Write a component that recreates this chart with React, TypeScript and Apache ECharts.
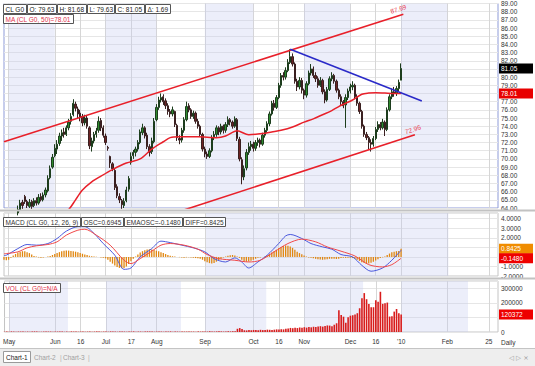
import React, { useEffect, useRef } from 'react';
import * as echarts from 'echarts';

const FONT = 'Liberation Sans';
const FS = 6.5;

// trading calendar
const HOLIDAYS = ['2009-05-25', '2009-07-03', '2009-09-07', '2009-11-26', '2009-12-25', '2010-01-01'];
const DAY_COUNT = 215;

const tickDates = ['2009-05-01', '2009-06-01', '2009-06-16', '2009-07-01', '2009-07-17', '2009-08-03', '2009-09-01', '2009-10-01', '2009-10-16', '2009-11-02', '2009-12-01', '2009-12-16', '2010-01-04', '2010-02-01', '2010-02-25'];
const tickTexts = ['May', 'Jun', '16', 'Jul', '17', 'Aug', 'Sep', 'Oct', '16', 'Nov', 'Dec', '16', "'10", 'Feb', '25'];
const shadeStarts = ['2009-05-01', '2009-07-01', '2009-09-01', '2009-11-02', '2010-01-04'];
const shadeEnds = ['2009-06-01', '2009-08-03', '2009-10-01', '2009-12-01', '2010-02-01'];

// OHLC from 2009-04-29 to 2010-01-04
const opens = [
  60.6, 61.0, 61.5, 62.1, 62.9, 62.6, 63.4, 63.8, 64.7, 65.4,
  64.8, 64.2, 64.8, 64.3, 64.9, 64.6, 65.4, 65.0, 65.6, 66.1,
  67.7, 69.0, 70.4, 71.2, 71.9, 72.8, 73.3, 73.0, 73.8, 74.6,
  75.4, 76.7, 76.1, 75.6, 75.2, 74.4, 75.0, 73.8, 71.5, 72.2,
  73.0, 73.5, 74.7, 73.8, 72.8, 71.4, 70.3, 69.4, 68.6, 66.6,
  65.4, 64.9, 64.3, 64.9, 66.3, 69.6, 70.4, 70.8, 71.2, 72.0,
  73.2, 73.8, 72.9, 71.5, 70.9, 72.1, 74.8, 76.3, 77.2, 77.6,
  77.1, 76.5, 75.8, 75.5, 75.8, 74.1, 72.5, 72.3, 73.5, 74.8,
  76.5, 76.0, 75.2, 75.6, 74.6, 74.0, 73.0, 71.2, 70.6, 70.3,
  71.0, 72.7, 73.0, 73.8, 73.3, 74.0, 73.5, 74.2, 74.8, 74.5,
  74.0, 74.8, 72.4, 69.9, 67.8, 68.9, 70.8, 71.5, 71.8, 71.3,
  72.0, 72.3, 71.8, 72.9, 73.5, 74.3, 75.5, 76.8, 76.3, 77.5,
  79.0, 80.2, 80.0, 80.8, 81.8, 82.5, 81.6, 79.5, 78.8, 79.6,
  78.4, 77.8, 79.2, 80.5, 81.0, 80.2, 79.8, 79.0, 79.6, 78.2,
  77.2, 78.5, 79.8, 80.2, 79.5, 78.4, 77.6, 77.0, 76.6, 77.5,
  78.3, 78.8, 79.0, 77.6, 76.8, 75.8, 74.0, 73.0, 72.6, 72.0,
  71.8, 72.5, 73.6, 74.2, 73.8, 74.5, 73.6, 76.0, 77.6, 78.2,
  78.0, 78.6, 79.63,
];
const highs = [
  61.4, 61.9, 62.4, 63.1, 63.2, 63.9, 64.3, 65.0, 65.0, 65.6,
  65.0, 65.1, 65.0, 65.2, 65.3, 65.7, 65.8, 65.9, 66.5, 68.0,
  69.2, 70.6, 71.8, 72.3, 73.2, 73.6, 73.8, 74.1, 74.9, 75.6,
  77.3, 77.0, 76.4, 76.0, 75.5, 75.4, 75.3, 74.0, 72.6, 73.3,
  73.8, 75.2, 75.0, 74.1, 73.1, 71.6, 70.4, 69.6, 68.8, 66.9,
  65.8, 65.1, 65.2, 66.6, 67.9, 70.8, 71.1, 71.5, 72.3, 73.6,
  74.3, 74.0, 73.2, 71.8, 72.6, 75.0, 76.7, 77.6, 78.0, 77.9,
  77.4, 76.8, 76.1, 76.4, 75.9, 74.3, 72.9, 73.8, 75.1, 77.0,
  76.8, 76.2, 75.9, 75.8, 74.9, 74.2, 73.2, 71.5, 70.9, 71.3,
  72.9, 73.4, 74.1, 74.0, 74.3, 74.2, 74.5, 75.2, 75.0, 74.7,
  75.2, 75.0, 72.7, 70.2, 69.2, 71.2, 72.0, 72.2, 72.1, 72.3,
  72.6, 72.5, 73.2, 73.8, 74.6, 75.8, 77.1, 77.2, 77.8, 79.3,
  80.5, 80.6, 81.2, 82.2, 83.4, 82.9, 81.8, 79.8, 80.0, 79.9,
  78.6, 79.5, 80.8, 81.6, 81.3, 80.6, 80.1, 80.0, 79.8, 78.5,
  78.8, 80.1, 80.6, 80.4, 79.7, 78.6, 77.9, 77.2, 77.9, 78.6,
  79.2, 79.5, 79.2, 77.9, 77.0, 76.0, 74.2, 73.3, 72.8, 72.4,
  72.8, 73.9, 74.6, 74.5, 74.9, 74.7, 76.3, 77.9, 78.6, 78.8,
  78.9, 79.7, 81.68,
];
const lows = [
  60.3, 60.8, 61.2, 61.9, 62.1, 62.4, 63.1, 63.6, 63.9, 64.5,
  64.0, 64.0, 63.9, 64.1, 64.3, 64.4, 64.8, 64.8, 65.3, 65.9,
  67.5, 68.8, 70.2, 70.6, 71.6, 72.2, 72.6, 72.8, 73.5, 74.2,
  75.2, 75.8, 75.0, 74.6, 74.0, 74.1, 73.7, 71.2, 70.9, 71.9,
  72.6, 73.2, 73.4, 72.6, 71.7, 71.0, 68.9, 68.5, 66.2, 65.2,
  64.6, 63.9, 64.0, 64.7, 66.0, 69.3, 70.0, 70.3, 70.9, 71.8,
  72.9, 72.5, 71.2, 70.3, 70.6, 71.9, 74.6, 76.0, 76.9, 76.6,
  76.1, 75.4, 75.1, 75.2, 73.9, 72.2, 71.8, 72.0, 73.2, 74.6,
  75.7, 74.9, 74.9, 74.3, 73.7, 72.7, 70.9, 70.2, 70.0, 70.1,
  70.8, 72.3, 72.7, 72.9, 73.0, 73.1, 73.2, 73.9, 74.1, 73.7,
  73.8, 72.2, 69.7, 66.9, 67.4, 68.6, 70.5, 71.0, 70.9, 71.0,
  71.6, 71.4, 71.6, 72.6, 73.2, 74.0, 75.3, 75.9, 76.1, 77.3,
  78.7, 79.6, 79.7, 80.6, 81.6, 81.3, 79.2, 78.3, 78.5, 78.0,
  77.3, 77.5, 79.0, 80.2, 79.9, 79.4, 78.7, 78.8, 77.9, 76.8,
  77.0, 78.3, 79.5, 79.2, 78.1, 77.3, 76.6, 76.2, 73.8, 77.2,
  78.0, 78.4, 77.3, 76.5, 75.5, 73.7, 72.7, 72.3, 71.2, 70.9,
  71.5, 72.3, 73.3, 73.5, 73.6, 72.8, 73.4, 75.8, 77.3, 77.6,
  77.7, 78.3, 79.63,
];
const closes = [
  61.0, 61.6, 62.0, 62.8, 62.5, 63.5, 63.8, 64.6, 64.3, 64.8,
  64.3, 64.7, 64.2, 64.9, 64.6, 65.3, 65.0, 65.6, 66.2, 67.6,
  68.8, 70.2, 71.3, 71.8, 72.8, 73.2, 73.0, 73.8, 74.5, 75.2,
  76.8, 76.2, 75.5, 75.1, 74.4, 75.0, 74.0, 71.6, 72.2, 73.0,
  73.4, 74.6, 73.8, 72.9, 72.0, 71.3, 69.5, 68.8, 66.5, 65.5,
  65.0, 64.4, 64.8, 66.2, 67.6, 70.3, 70.8, 71.2, 72.0, 73.3,
  73.8, 72.8, 71.5, 70.8, 72.2, 74.6, 76.3, 77.2, 77.5, 77.0,
  76.5, 75.8, 75.5, 76.0, 74.2, 72.6, 72.3, 73.5, 74.8, 76.4,
  76.0, 75.2, 75.6, 74.6, 74.0, 73.0, 71.2, 70.6, 70.3, 71.0,
  72.6, 73.0, 73.8, 73.3, 74.0, 73.5, 74.2, 74.8, 74.5, 74.0,
  74.9, 72.5, 70.0, 67.8, 68.8, 70.8, 71.5, 71.8, 71.3, 72.0,
  72.3, 71.8, 72.9, 73.5, 74.3, 75.5, 76.8, 76.3, 77.5, 79.0,
  80.2, 80.0, 80.8, 81.8, 82.5, 81.6, 79.5, 78.8, 79.6, 78.4,
  77.8, 79.2, 80.5, 81.0, 80.2, 79.8, 79.0, 79.6, 78.2, 77.2,
  78.5, 79.8, 80.2, 79.5, 78.4, 77.6, 77.0, 76.5, 77.5, 78.3,
  78.8, 79.0, 77.6, 76.8, 75.8, 74.0, 73.0, 72.6, 72.0, 71.8,
  72.5, 73.6, 74.2, 73.8, 74.5, 73.6, 76.0, 77.6, 78.2, 78.0,
  78.6, 79.36, 81.05,
];

const maIdx = [22, 25, 28, 31, 34, 38, 42, 47, 53, 59, 64, 69, 72, 76, 84, 92, 96, 101, 106, 112, 116, 120, 125, 130, 134, 138, 142, 145, 148, 151, 155, 158, 161, 165, 169, 172];
const maVals = [62.6, 63.2, 63.8, 65.0, 66.2, 67.2, 67.9, 68.7, 69.5, 70.0, 71.2, 72.1, 72.6, 72.7, 72.7, 72.6, 72.8, 73.45, 72.95, 73.1, 73.3, 73.5, 73.9, 74.5, 74.9, 75.4, 75.9, 76.4, 76.8, 77.2, 77.9, 78.05, 78.1, 78.05, 78.0, 78.01];

// drawn trend lines (index, value)
const upperIdx = [0, 173];
const upperVals = [72.1, 87.69];
const lowerIdx = [70, 178];
const lowerVals = [63.03, 72.96];
const blueIdx = [124, 181];
const blueVals = [83.4, 77.07];

// MACD lines
const oscIdx = [0, 1, 6, 10, 14, 19, 23, 27, 32, 35, 39, 43, 48, 52, 55, 59, 64, 68, 72, 77, 82, 87, 91, 96, 100, 103, 106, 110, 114, 119, 122, 124, 129, 133, 138, 142, 146, 151, 155, 159, 164, 168, 172];
const oscVals = [0.15, 0.18, 0.87, 1.3, 1.23, 1.4, 1.93, 2.7, 3.16, 3.16, 2.46, 1.4, 0.18, -1.3, -1.16, 0, 0.87, 1.65, 1.5, 1.23, 0.95, 0.53, -0.18, -0.53, -0.1, -0.53, -1.16, -0.53, 0.18, 1.4, 2.2, 2.35, 1.93, 1.4, 1.05, 0.81, 0.25, 0, -0.88, -1.5, -1.16, -0.35, 0.6945];
const emaIdx = [0, 1, 6, 10, 14, 19, 23, 27, 32, 35, 40, 46, 52, 55, 59, 64, 68, 72, 78, 84, 88, 93, 100, 106, 111, 117, 123, 129, 135, 140, 146, 152, 158, 164, 168, 172];
const emaVals = [0.33, 0.35, 0.53, 0.95, 1.16, 1.3, 1.58, 2.28, 2.8, 2.9, 2.28, 1.23, -0.35, -0.7, -0.18, 0.6, 1.23, 1.4, 1.23, 0.81, 0.25, -0.18, -0.35, -0.53, -0.35, 0.53, 1.4, 1.86, 1.58, 1.05, 0.6, 0.1, -0.81, -1.05, -0.81, -0.148];
const diffVals = [
  -0.3, -0.35, -0.3, -0.1, 0.15, 0.3, 0.45, 0.55, 0.6, 0.58,
  0.5, 0.4, 0.25, 0.1, 0.05, -0.05, -0.08, -0.05, 0, 0.05,
  0.1, 0.2, 0.3, 0.4, 0.5, 0.58, 0.64, 0.66, 0.66, 0.62,
  0.6, 0.55, 0.48, 0.4, 0.33, 0.25, 0.2, 0.12, 0.08, 0.05,
  0.02, 0, -0.05, -0.08, -0.15, -0.3, -0.5, -0.7, -0.9, -1.05,
  -1.15, -1.2, -1.15, -1.0, -0.75, -0.45, -0.2, 0.05, 0.25, 0.45,
  0.6, 0.7, 0.78, 0.8, 0.78, 0.72, 0.65, 0.58, 0.5, 0.4,
  0.3, 0.2, 0.12, 0.08, 0.04, 0, -0.03, -0.05, -0.08, -0.05,
  -0.03, -0.06, -0.1, -0.12, -0.15, -0.2, -0.3, -0.45, -0.55, -0.65,
  -0.7, -0.65, -0.5, -0.35, -0.2, -0.05, 0.05, 0.12, 0.18, 0.2,
  0.15, 0.05, -0.1, -0.3, -0.45, -0.5, -0.48, -0.4, -0.3, -0.2,
  -0.1, -0.05, 0, 0.05, 0.15, 0.3, 0.45, 0.6, 0.75, 0.9,
  1.05, 1.15, 1.2, 1.18, 1.1, 0.95, 0.75, 0.55, 0.4, 0.28,
  0.15, 0.05, -0.05, -0.1, -0.15, -0.2, -0.25, -0.28, -0.3, -0.28,
  -0.25, -0.2, -0.18, -0.2, -0.22, -0.18, -0.12, -0.1, -0.1, -0.08,
  -0.1, -0.12, -0.18, -0.3, -0.42, -0.55, -0.65, -0.7, -0.7, -0.62,
  -0.5, -0.38, -0.25, -0.12, -0.05, 0.05, 0.2, 0.35, 0.48, 0.55,
  0.6, 0.62, 0.8425,
];

const volumes = [
  2000, 3000, 2000, 4000, 3000, 2000, 3000, 3000, 4000, 2000,
  3000, 2000, 3000, 4000, 3000, 2000, 2000, 3000, 4000, 3000,
  3000, 2000, 3000, 3000, 4000, 3000, 2000, 3000, 2000, 4000,
  3000, 3000, 2000, 3000, 4000, 2000, 3000, 3000, 2000, 3000,
  4000, 3000, 2000, 3000, 3000, 2000, 4000, 3000, 3000, 2000,
  3000, 4000, 3000, 2000, 3000, 3000, 4000, 2000, 3000, 3000,
  2000, 3000, 4000, 3000, 3000, 2000, 3000, 4000, 3000, 2000,
  3000, 3000, 4000, 2000, 3000, 3000, 2000, 4000, 3000, 3000,
  4000, 3000, 3000, 2000, 4000, 3000, 3000, 4000, 3000, 5000,
  4000, 3000, 4000, 5000, 4000, 3000, 4000, 5000, 4000, 5000,
  6000, 22000, 27000, 20000, 12000, 11000, 13000, 12000, 14000, 13000,
  12000, 15000, 13000, 14000, 16000, 15000, 14000, 16000, 18000, 17000,
  19000, 18000, 22000, 24000, 28000, 26000, 30000, 27000, 31000, 29000,
  33000, 30000, 34000, 32000, 36000, 35000, 38000, 40000, 37000, 42000,
  45000, 44000, 40000, 50000, 60000, 150000, 117000, 105000, 64000, 101000,
  112000, 115000, 120000, 129000, 163000, 232000, 267000, 225000, 193000, 170000,
  170000, 218000, 207000, 276000, 193000, 198000, 202000, 106000, 108000, 140000,
  158000, 128000, 120372,
];

const headTexts = ['CL G0', 'O: 79.63', 'H: 81.68', 'L: 79.63', 'C: 81.05', '\u0394: 1.69'];
const maText = 'MA (CL G0, 50)=78.01';
const macdTexts = ['MACD (CL G0, 12, 26, 9)', 'OSC=0.6945', 'EMAOSC=-0.1480', 'DIFF=0.8425'];
const volText = 'VOL (CL G0)=N/A';
const lastClose = 81.05;
const lastMa = 78.01;
const lastDiff = 0.8425;
const lastEma = -0.148;
const lastVol = 120372;

function buildDates(): string[] {
  const out: string[] = [];
  const d = new Date(Date.UTC(2009, 3, 29));
  while (out.length < DAY_COUNT) {
    const wd = d.getUTCDay();
    const s = d.toISOString().slice(0, 10);
    if (wd !== 0 && wd !== 6 && !HOLIDAYS.includes(s)) out.push(s);
    d.setUTCDate(d.getUTCDate() + 1);
  }
  return out;
}

const RED = '#e8202a';
const LEG_RED = '#e0304a';

export default function App() {
  const ref = useRef<HTMLDivElement>(null);
  useEffect(() => {
    const el = ref.current!;
    const chart = echarts.init(el, undefined, { renderer: 'svg', width: 535, height: 366 });
    const dates = buildDates();
    const N = dates.length;
    const sparse = (ks: number[], vs: number[]) => {
      const a: (number | null)[] = new Array(N).fill(null);
      ks.forEach((k, i) => { a[k] = vs[i]; });
      return a;
    };
    const tickSet = new Set(tickDates);
    const tickMap: Record<string, string> = {};
    tickDates.forEach((d, i) => { tickMap[d] = tickTexts[i]; });
    const isTick = (_i: number, v: string) => tickSet.has(v);

    const xAxis = (gi: number, labels: boolean) => ({
      type: 'category', gridIndex: gi, data: dates, boundaryGap: false,
      axisLine: { show: false }, axisTick: { show: false },
      axisLabel: labels
        ? { show: true, interval: isTick, formatter: (v: string) => tickMap[v] || '', fontSize: FS, color: '#333', margin: 6, fontFamily: FONT }
        : { show: false },
      splitLine: { show: true, interval: isTick, lineStyle: { color: '#d6d6d6', width: 1 } },
    });
    const shade = {
      silent: true,
      itemStyle: { color: 'rgba(196,203,240,0.33)' },
      data: shadeStarts.map((s, i) => [{ xAxis: s }, { xAxis: shadeEnds[i] }]),
    };
    const ylab = { fontSize: FS, color: '#333', margin: 3, fontFamily: FONT };
    // labels sitting under the value tags on the right are left out
    const near = (v: number, tags: number[], d: number) => tags.some((t) => Math.abs(v - t) < d);

    const option: any = {
      animation: false,
      backgroundColor: '#fff',
      textStyle: { fontFamily: FONT },
      grid: [
        { left: 4, top: 3, width: 494, height: 205, show: true, borderColor: '#8e9bd8', borderWidth: 1 },
        { left: 4, top: 213, width: 494, height: 63, show: true, borderColor: '#c4c4c4', borderWidth: 1 },
        { left: 4, top: 281, width: 494, height: 51, show: true, borderColor: '#c4c4c4', borderWidth: 1 },
      ],
      xAxis: [xAxis(0, false), xAxis(1, false), xAxis(2, true)],
      yAxis: [
        {
          type: 'value', gridIndex: 0, min: 64, max: 89, interval: 1, position: 'right',
          axisLine: { show: false }, axisTick: { show: false },
          axisLabel: { ...ylab, formatter: (v: number) => (near(v, [lastClose, lastMa], 0.95) ? '' : v.toFixed(2)) },
          splitLine: { lineStyle: { color: '#e6e6e6' } },
        },
        {
          type: 'value', gridIndex: 1, min: -2, max: 4.6, interval: 1, position: 'right',
          axisLine: { show: false }, axisTick: { show: false },
          axisLabel: {
            ...ylab,
            formatter: (v: number) => (Math.abs(v - Math.round(v)) > 1e-6 || near(v, [lastDiff, lastEma], 0.85) ? '' : v.toFixed(4)),
          },
          splitLine: { lineStyle: { color: '#e6e6e6' } },
        },
        {
          type: 'value', gridIndex: 2, min: 0, max: 350000, interval: 100000, position: 'right',
          axisLine: { show: false }, axisTick: { show: false },
          axisLabel: { ...ylab, formatter: (v: number) => (v % 100000 !== 0 || near(v, [lastVol], 40000) ? '' : String(v)) },
          splitLine: { lineStyle: { color: '#e6e6e6' } },
        },
      ],
      series: [
        {
          type: 'candlestick', xAxisIndex: 0, yAxisIndex: 0, barWidth: 1.8, clip: true,
          data: closes.map((c, i) => [opens[i], c, lows[i], highs[i]]),
          itemStyle: { color: '#2e8b2e', color0: '#6e2424', borderColor: '#1d3d1d', borderColor0: '#3a2020', borderWidth: 1 },
          markArea: shade,
        },
        {
          type: 'line', xAxisIndex: 0, yAxisIndex: 0, data: sparse(maIdx, maVals), connectNulls: true,
          smooth: 0.3, symbol: 'none', lineStyle: { color: RED, width: 1.5 }, clip: true,
        },
        {
          type: 'line', xAxisIndex: 0, yAxisIndex: 0, data: sparse(upperIdx, upperVals), connectNulls: true,
          symbol: 'none', lineStyle: { color: RED, width: 1.6 }, clip: true,
        },
        {
          type: 'line', xAxisIndex: 0, yAxisIndex: 0, data: sparse(lowerIdx, lowerVals), connectNulls: true,
          symbol: 'none', lineStyle: { color: RED, width: 1.6 }, clip: true,
        },
        {
          type: 'line', xAxisIndex: 0, yAxisIndex: 0, data: sparse(blueIdx, blueVals), connectNulls: true,
          symbol: 'none', lineStyle: { color: '#2a2ac8', width: 1.6 }, clip: true,
        },
        {
          type: 'bar', xAxisIndex: 1, yAxisIndex: 1, data: diffVals, barWidth: 1.3,
          itemStyle: { color: '#e0860f' }, markArea: shade,
        },
        {
          type: 'line', xAxisIndex: 1, yAxisIndex: 1, data: sparse(oscIdx, oscVals), connectNulls: true,
          smooth: 0.3, symbol: 'none', lineStyle: { color: '#4a58dc', width: 1 },
        },
        {
          type: 'line', xAxisIndex: 1, yAxisIndex: 1, data: sparse(emaIdx, emaVals), connectNulls: true,
          smooth: 0.3, symbol: 'none', lineStyle: { color: '#f04848', width: 1 },
        },
        {
          type: 'bar', xAxisIndex: 2, yAxisIndex: 2, data: volumes, barWidth: 1.6,
          itemStyle: { color: '#d81c1c' }, markArea: shade,
        },
      ],
    };
    chart.setOption(option);

    const canvas = document.createElement('canvas');
    const ctx = canvas.getContext('2d')!;
    const measure = (t: string) => { ctx.font = `${FS}px "${FONT}"`; return ctx.measureText(t).width; };
    const g: any[] = [];
    const boxRow = (texts: string[], colors: string[], x0: number, y0: number) => {
      let x = x0;
      texts.forEach((t, i) => {
        const w = Math.round(measure(t) + 4);
        g.push({ type: 'rect', shape: { x: x + 0.5, y: y0 + 0.5, width: w, height: 9 }, style: { fill: '#fff', stroke: '#555', lineWidth: 1 }, z: 100 });
        g.push({ type: 'text', x: x + 2.5, y: y0 + 5.3, style: { text: t, fill: colors[i], fontSize: FS, fontFamily: FONT, verticalAlign: 'middle' }, z: 101 });
        x += w + 1;
      });
    };
    boxRow(headTexts, headTexts.map(() => '#222'), 3, 4);
    boxRow([maText], [LEG_RED], 3, 14);
    boxRow(macdTexts, macdTexts.map(() => '#333'), 3, 217);
    boxRow([volText], [LEG_RED], 3, 283);

    const tag = (axis: number, v: number, text: string, fill: string) => {
      const y = chart.convertToPixel({ yAxisIndex: axis }, v) as number;
      g.push({ type: 'rect', shape: { x: 499, y: y - 5, width: 34, height: 10 }, style: { fill }, z: 100 });
      g.push({ type: 'text', x: 501, y, style: { text, fill: '#fff', fontSize: FS, fontFamily: FONT, verticalAlign: 'middle' }, z: 101 });
    };
    tag(0, lastClose, lastClose.toFixed(2), '#000');
    tag(0, lastMa, lastMa.toFixed(2), '#e80000');
    tag(1, lastDiff, lastDiff.toFixed(4), '#f08c00');
    tag(1, lastEma, lastEma.toFixed(4), '#ee0000');
    tag(2, lastVol, String(lastVol), '#ee0000');

    const lineLabel = (ks: number[], vs: number[], dx: number, dy: number) => {
      const p0 = chart.convertToPixel({ gridIndex: 0 }, [ks[0], vs[0]]) as number[];
      const p1 = chart.convertToPixel({ gridIndex: 0 }, [ks[1], vs[1]]) as number[];
      const ang = Math.atan2(p0[1] - p1[1], p1[0] - p0[0]);
      g.push({
        type: 'text', x: p1[0] + dx, y: p1[1] + dy, rotation: ang,
        style: { text: vs[1].toFixed(2), fill: '#e84050', fontSize: FS, fontFamily: FONT, align: 'center', verticalAlign: 'bottom' }, z: 101,
      });
    };
    lineLabel(upperIdx, upperVals, -4, -2);
    lineLabel(lowerIdx, lowerVals, -1, -2);

    // panel separators
    g.push({ type: 'rect', shape: { x: 0, y: 209.5, width: 535, height: 2 }, style: { fill: '#c2c2c2' }, z: 90 });
    g.push({ type: 'rect', shape: { x: 0, y: 277.5, width: 535, height: 2 }, style: { fill: '#c2c2c2' }, z: 90 });
    // bottom row
    g.push({ type: 'text', x: 501, y: 342, style: { text: 'Daily', fill: '#333', fontSize: FS, fontFamily: FONT, verticalAlign: 'middle' }, z: 101 });
    g.push({ type: 'rect', shape: { x: 0, y: 348, width: 535, height: 18 }, style: { fill: '#eeeeee' }, z: 90 });
    g.push({ type: 'line', shape: { x1: 0, y1: 348.5, x2: 535, y2: 348.5 }, style: { stroke: '#c4c4c4', lineWidth: 1 }, z: 91 });
    g.push({ type: 'rect', shape: { x: 3.5, y: 351.5, width: 27, height: 11 }, style: { fill: '#fff', stroke: '#9a9a9a', lineWidth: 1 }, z: 92 });
    const tabs = ['Chart-1', 'Chart-2', 'Chart-3'];
    const tabX = [6, 34, 63];
    tabs.forEach((t, i) => {
      g.push({ type: 'text', x: tabX[i], y: 357.5, style: { text: t, fill: i === 0 ? '#222' : '#a0a0a0', fontSize: FS, fontFamily: FONT, verticalAlign: 'middle' }, z: 93 });
    });
    [60, 88].forEach((x) => {
      g.push({ type: 'text', x, y: 357.5, style: { text: '|', fill: '#b0b0b0', fontSize: FS, fontFamily: FONT, verticalAlign: 'middle' }, z: 93 });
    });
    g.push({ type: 'text', x: 509, y: 357.5, style: { text: '\u25C1 \u25B7 \u00D7', fill: '#9a9a9a', fontSize: FS, fontFamily: 'DejaVu Sans', verticalAlign: 'middle' }, z: 93 });

    chart.setOption({ graphic: g });
    return () => chart.dispose();
  }, []);
  return <div ref={ref} style={{ position: 'fixed', left: 0, top: 0, width: 535, height: 366, background: '#fff' }} />;
}
